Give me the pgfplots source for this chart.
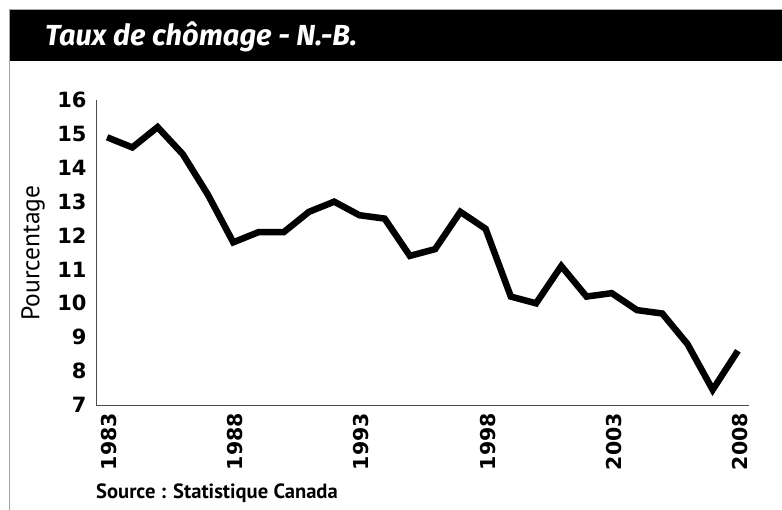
\documentclass[border=0pt]{standalone}
\usepackage{pgfplots}
\pgfplotsset{compat=1.18}
\usepackage{fontspec}
\setmainfont{PT Sans}
\newfontfamily\tickfont{DejaVu Sans}
\newfontfamily\titlefont{Fira Sans}
\begin{document}
\begin{tikzpicture}[x=1bp,y=1bp]
\path[use as bounding box] (0,0) rectangle (782,510);
% frame
\fill[black] (9,449) rectangle (782,500);
\draw[gray!70,line width=1.5bp] (9.5,0) -- (9.5,500.5) -- (782,500.5);
\node[anchor=base west,text=white,inner sep=0] at (45,464)
  {\titlefont\fontsize{29bp}{32bp}\selectfont\bfseries\itshape Taux de chômage - N.-B.};
\node[anchor=base west,inner sep=0] at (96,11)
  {\fontsize{20.6bp}{23bp}\selectfont\bfseries Source : Statistique Canada};
\node[rotate=90,inner sep=0] at (33,257)
  {\fontsize{25.5bp}{28bp}\selectfont Pourcentage};
\begin{axis}[
  at={(96bp,105bp)}, anchor=origin,
  scale only axis, width=653bp, height=305bp,
  xmin=1982.56, xmax=2008.44, ymin=7, ymax=16,
  axis x line=bottom, axis y line=left,
  axis line style={gray!60!black, line width=0.8bp, -},
  xtick={1983,1988,...,2008}, ytick={7,...,16},
  major tick length=0pt,
  /pgf/number format/assume math mode=true,
  xticklabel={\pgfmathprintnumber[1000 sep={}]{\tick}},
  xticklabel style={rotate=90, anchor=east, font=\tickfont\fontsize{20.5bp}{22bp}\selectfont\bfseries, inner sep=2bp, xshift=-6bp, yshift=-2bp},
  yticklabel style={anchor=east, font=\tickfont\fontsize{21bp}{23bp}\selectfont\bfseries, xshift=-6bp},
  clip=false,
]
\addplot[black, line width=6.5bp, line join=miter, miter limit=4] coordinates {
(1983,14.9) (1984,14.6) (1985,15.2) (1986,14.4) (1987,13.2) (1988,11.8)
(1989,12.1) (1990,12.1) (1991,12.7) (1992,13.0) (1993,12.6) (1994,12.5)
(1995,11.4) (1996,11.6) (1997,12.7) (1998,12.2) (1999,10.2) (2000,10.0)
(2001,11.1) (2002,10.2) (2003,10.3) (2004,9.8) (2005,9.7) (2006,8.8)
(2007,7.45) (2008,8.6)};
\end{axis}
\end{tikzpicture}
\end{document}
